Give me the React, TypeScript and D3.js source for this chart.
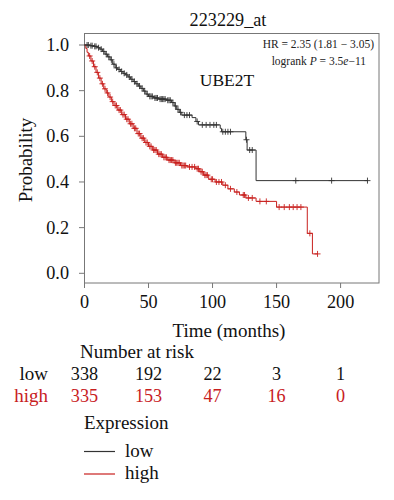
import React from 'react';
import * as d3 from 'd3';

// step points of the Kaplan-Meier curves: [months, survival]
const lowSteps: [number, number][] = [
  [0, 1.0], [4, 0.997], [7, 0.994], [10, 0.988], [12, 0.982], [14, 0.972], [16, 0.96], [18, 0.948],
  [20, 0.935], [22, 0.916], [24, 0.9], [26, 0.893], [28, 0.884], [30, 0.876], [32, 0.869], [34, 0.86],
  [36, 0.85], [38, 0.84], [40, 0.83], [42, 0.82], [44, 0.81], [46, 0.798], [48, 0.785], [50, 0.775],
  [54, 0.768], [58, 0.763], [64, 0.758], [68, 0.748], [70, 0.733], [72, 0.718], [74, 0.705], [76, 0.693],
  [84, 0.682], [87, 0.665], [89, 0.65], [106, 0.635], [107, 0.62], [126, 0.585], [127, 0.54], [134, 0.406],
];
const lowEnd = 221;
const lowCensor = [
  2, 3, 5, 6, 8, 9, 11, 13, 15, 17, 19, 21, 23, 25, 27, 29, 31, 33, 35, 37, 39, 41, 43, 45, 47, 49,
  51, 52, 53, 55, 56, 57, 59, 60, 61, 62, 63, 65, 66, 67, 69, 71, 73, 75, 78, 80, 82, 88, 92, 95, 98,
  101, 103, 108, 110, 112, 114, 126.5, 129, 131, 165, 193, 221,
];

const highSteps: [number, number][] = [
  [0, 1.0], [1, 0.985], [2, 0.968], [3, 0.952], [5, 0.93], [7, 0.905], [9, 0.88], [11, 0.855],
  [13, 0.83], [15, 0.808], [17, 0.79], [19, 0.772], [21, 0.752], [23, 0.735], [26, 0.715], [29, 0.695],
  [32, 0.675], [35, 0.655], [38, 0.635], [41, 0.612], [44, 0.592], [47, 0.573], [50, 0.556], [53, 0.54],
  [57, 0.522], [61, 0.508], [65, 0.496], [70, 0.484], [75, 0.472], [80, 0.466], [87, 0.458], [90, 0.445],
  [93, 0.43], [97, 0.412], [102, 0.4], [108, 0.386], [112, 0.37], [117, 0.356], [121, 0.343], [126, 0.33],
  [134, 0.315], [150, 0.29], [174, 0.175], [178, 0.085],
];
const highEnd = 182;
const highCensor = [
  4, 6, 8, 10, 12, 14, 16, 18, 20, 22, 24, 25, 27, 28, 30, 31, 33, 34, 36, 37, 39, 40, 42, 43, 45, 46,
  48, 49, 51, 52, 54, 55, 56, 58, 59, 60, 62, 63, 64, 66, 67, 68, 69, 71, 72, 73, 74, 76, 77, 78, 79,
  82, 84, 86, 88, 89, 91, 92, 94, 95, 96, 99, 100, 103, 105, 107, 110, 114, 119, 124, 125, 128, 131,
  137, 142, 152, 156, 160, 163, 166, 169, 176, 182,
];

const xTicks = [0, 50, 100, 150, 200];
const yTicks = [0, 0.2, 0.4, 0.6, 0.8, 1.0];
const riskLow = [338, 192, 22, 3, 1];
const riskHigh = [335, 153, 47, 16, 0];

const RED = '#c8201e';
const DARK = '#333';
const FONT = '"Liberation Serif", "DejaVu Serif", serif';

const App: React.FC = () => {
  const width = 394;
  const height = 500;
  const x = d3.scaleLinear().domain([0, 230]).range([84.5, 379]);
  const y = d3.scaleLinear().domain([0, 1]).range([273.3, 45]);

  const stepPath = (steps: [number, number][], end: number) => {
    const pts: [number, number][] = [...steps, [end, steps[steps.length - 1][1]]];
    return d3.line<[number, number]>().x(d => x(d[0])).y(d => y(d[1])).curve(d3.curveStepAfter)(pts) || '';
  };
  const survAt = (steps: [number, number][], t: number) => {
    const i = d3.bisector((d: [number, number]) => d[0]).right(steps, t) - 1;
    return steps[Math.max(0, i)][1];
  };
  const censor = (steps: [number, number][], times: number[], color: string) =>
    times.map((t, i) => {
      const cx = x(t);
      const cy = y(survAt(steps, t));
      return (
        <g key={i} stroke={color} strokeWidth={0.9}>
          <line x1={cx - 3} x2={cx + 3} y1={cy} y2={cy} />
          <line x1={cx} x2={cx} y1={cy - 3} y2={cy + 3} />
        </g>
      );
    });

  const axisColor = '#777';
  const fsNum = 18.2;
  const fsWord = 19;

  return (
    <div style={{ position: 'absolute', left: 0, top: 0 }}>
      <svg width={width} height={height} style={{ display: 'block', background: '#fff' }} fontFamily={FONT}>
        <text x={228} y={26} fontSize={18.2} textAnchor="middle" fill="#111">223229_at</text>

        {/* plot box */}
        <rect x={84.5} y={33.5} width={379 - 84.5} height={283 - 33.5} fill="none" stroke={axisColor} strokeWidth={1} />

        {yTicks.map(t => (
          <g key={t}>
            <line x1={79} x2={84.5} y1={y(t)} y2={y(t)} stroke={axisColor} />
            <text x={69} y={y(t) + 6} fontSize={fsNum} textAnchor="end" fill="#111">{t.toFixed(1)}</text>
          </g>
        ))}
        {xTicks.map(t => (
          <g key={t}>
            <line x1={x(t)} x2={x(t)} y1={283} y2={288} stroke={axisColor} />
            <text x={x(t)} y={308} fontSize={fsNum} textAnchor="middle" fill="#111">{t}</text>
          </g>
        ))}

        <text transform="translate(32,160) rotate(-90)" fontSize={fsWord} textAnchor="middle" fill="#111">Probability</text>
        <text x={229} y={337} fontSize={fsWord} textAnchor="middle" fill="#111">Time (months)</text>

        <text x={374} y={48} fontSize={11.5} textAnchor="end" fill="#222">HR = 2.35 (1.81 − 3.05)</text>
        <text x={366} y={65} fontSize={11.5} textAnchor="end" fill="#222">
          logrank <tspan fontStyle="italic">P</tspan> = 3.5<tspan fontStyle="italic">e</tspan>−11
        </text>
        <text x={227} y={86} fontSize={17.5} textAnchor="middle" fill="#111">UBE2T</text>

        <path d={stepPath(lowSteps, lowEnd)} fill="none" stroke={DARK} strokeWidth={1} />
        <path d={stepPath(highSteps, highEnd)} fill="none" stroke={RED} strokeWidth={1} />
        {censor(lowSteps, lowCensor, DARK)}
        {censor(highSteps, highCensor, RED)}

        {/* number at risk */}
        <text x={80} y={358} fontSize={fsWord} fill="#111">Number at risk</text>
        <text x={48} y={380} fontSize={fsWord} textAnchor="end" fill="#111">low</text>
        <text x={48} y={402} fontSize={fsWord} textAnchor="end" fill={RED}>high</text>
        {xTicks.map((t, i) => (
          <g key={t}>
            <text x={x(t)} y={380} fontSize={fsNum} textAnchor="middle" fill="#111">{riskLow[i]}</text>
            <text x={x(t)} y={402} fontSize={fsNum} textAnchor="middle" fill={RED}>{riskHigh[i]}</text>
          </g>
        ))}

        {/* legend */}
        <text x={84} y={429} fontSize={fsWord} fill="#111">Expression</text>
        <line x1={84} x2={115} y1={451.5} y2={451.5} stroke={DARK} strokeWidth={1.2} />
        <text x={125} y={456.5} fontSize={fsWord} fill="#111">low</text>
        <line x1={84} x2={115} y1={474} y2={474} stroke={RED} strokeWidth={1.2} />
        <text x={125} y={479} fontSize={fsWord} fill="#111">high</text>
      </svg>
    </div>
  );
};

export default App;
